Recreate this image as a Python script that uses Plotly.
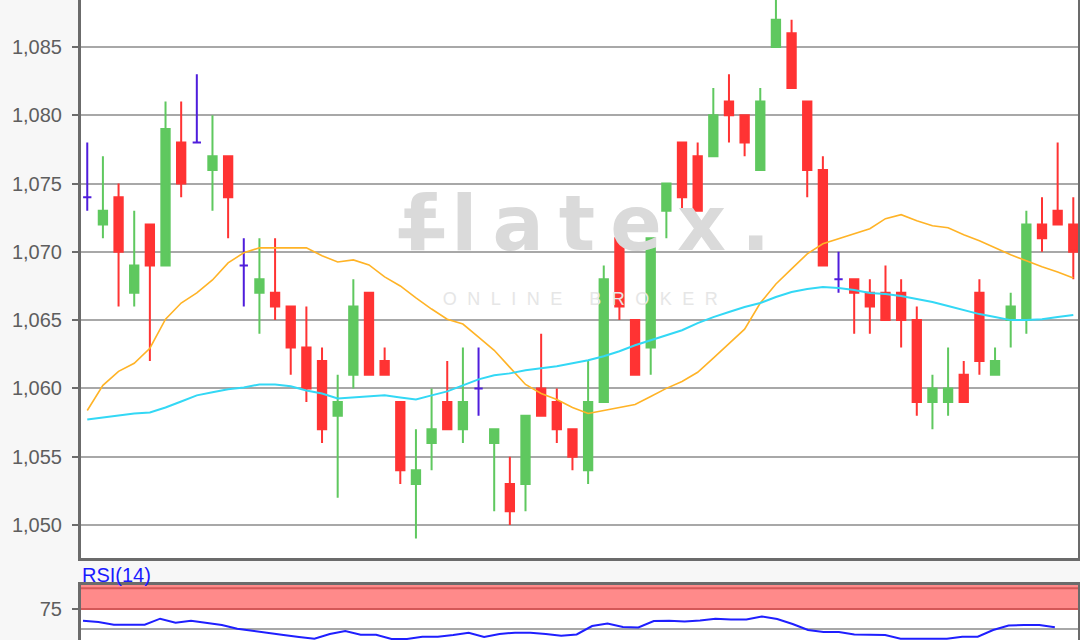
import plotly.graph_objects as go

# ---- data ----
opens = [1.074, 1.072, 1.074, 1.067, 1.072, 1.069, 1.078, 1.078, 1.076, 1.077,
         1.069, 1.067, 1.067, 1.066, 1.063, 1.062, 1.058, 1.061, 1.067, 1.062,
         1.059, 1.053, 1.056, 1.059, 1.057, 1.060, 1.056, 1.053, 1.053, 1.060,
         1.059, 1.057, 1.054, 1.059, 1.071, 1.065, 1.063, 1.073, 1.078, 1.077,
         1.077, 1.081, 1.080, 1.076, 1.085, 1.086, 1.081, 1.076, 1.068, 1.068,
         1.067, 1.067, 1.067, 1.065, 1.059, 1.059, 1.061, 1.067, 1.061, 1.065,
         1.065, 1.072, 1.073, 1.072]
highs = [1.078, 1.077, 1.075, 1.073, 1.072, 1.081, 1.081, 1.083, 1.080, 1.077,
         1.071, 1.071, 1.071, 1.066, 1.066, 1.063, 1.061, 1.068, 1.067, 1.063,
         1.059, 1.057, 1.060, 1.062, 1.063, 1.063, 1.057, 1.055, 1.058, 1.064,
         1.060, 1.057, 1.062, 1.069, 1.071, 1.065, 1.071, 1.075, 1.078, 1.078,
         1.082, 1.083, 1.080, 1.082, 1.089, 1.087, 1.081, 1.077, 1.070, 1.068,
         1.068, 1.069, 1.068, 1.066, 1.061, 1.063, 1.062, 1.068, 1.063, 1.067,
         1.073, 1.074, 1.078, 1.074]
lows = [1.073, 1.071, 1.066, 1.066, 1.062, 1.069, 1.074, 1.078, 1.073, 1.071,
        1.066, 1.064, 1.065, 1.061, 1.059, 1.056, 1.052, 1.060, 1.061, 1.061,
        1.053, 1.049, 1.054, 1.057, 1.056, 1.058, 1.051, 1.050, 1.051, 1.058,
        1.056, 1.054, 1.053, 1.059, 1.065, 1.061, 1.061, 1.071, 1.073, 1.073,
        1.077, 1.078, 1.077, 1.076, 1.085, 1.082, 1.074, 1.069, 1.067, 1.064,
        1.064, 1.065, 1.063, 1.058, 1.057, 1.058, 1.059, 1.061, 1.061, 1.063,
        1.064, 1.070, 1.072, 1.068]
closes = [1.074, 1.073, 1.070, 1.069, 1.069, 1.079, 1.075, 1.078, 1.077, 1.074,
          1.069, 1.068, 1.066, 1.063, 1.060, 1.057, 1.059, 1.066, 1.061, 1.061,
          1.054, 1.054, 1.057, 1.057, 1.059, 1.060, 1.057, 1.051, 1.058, 1.058,
          1.057, 1.055, 1.059, 1.068, 1.066, 1.061, 1.071, 1.075, 1.074, 1.073,
          1.080, 1.080, 1.078, 1.081, 1.087, 1.082, 1.076, 1.069, 1.068, 1.067,
          1.066, 1.065, 1.065, 1.059, 1.060, 1.060, 1.059, 1.062, 1.062, 1.066,
          1.072, 1.071, 1.072, 1.070]

ma_orange = [1.05838, 1.06022, 1.06125, 1.06184, 1.06294, 1.06507, 1.06625, 1.06699,
             1.06794, 1.06919, 1.06993, 1.07029, 1.07029, 1.07029, 1.07029, 1.06971,
             1.06926, 1.06941, 1.06904, 1.06816, 1.06750, 1.06662, 1.06581, 1.06507,
             1.06471, 1.06375, 1.06279, 1.06154, 1.06029, 1.05963, 1.05919, 1.05860,
             1.05816, 1.05838, 1.05860, 1.05882, 1.05941, 1.06000, 1.06051, 1.06118,
             1.06221, 1.06331, 1.06434, 1.06625, 1.06765, 1.06875, 1.06985, 1.07059,
             1.07096, 1.07132, 1.07169, 1.07243, 1.07272, 1.07228, 1.07191, 1.07176,
             1.07125, 1.07081, 1.07029, 1.06978, 1.06934, 1.06890, 1.06853, 1.06809]
ma_cyan = [1.05772, 1.05787, 1.05801, 1.05816, 1.05824, 1.05860, 1.05904, 1.05949,
           1.05971, 1.05993, 1.06007, 1.06029, 1.06029, 1.06015, 1.05985, 1.05963,
           1.05926, 1.05934, 1.05941, 1.05949, 1.05934, 1.05919, 1.05949, 1.05978,
           1.06022, 1.06066, 1.06096, 1.06110, 1.06132, 1.06147, 1.06162, 1.06184,
           1.06206, 1.06235, 1.06272, 1.06316, 1.06353, 1.06390, 1.06426, 1.06478,
           1.06522, 1.06559, 1.06596, 1.06625, 1.06669, 1.06706, 1.06728, 1.06743,
           1.06735, 1.06721, 1.06699, 1.06691, 1.06676, 1.06654, 1.06632, 1.06603,
           1.06574, 1.06544, 1.06522, 1.06500, 1.06500, 1.06507, 1.06522, 1.06537]

rsi = [72.08, 71.75, 71.08, 71.08, 71.08, 72.58, 71.58, 72.08, 71.50, 71.00,
       70.08, 69.50, 69.00, 68.50, 68.00, 67.58, 68.75, 69.50, 68.58, 68.58,
       67.50, 67.50, 68.08, 68.08, 68.50, 69.08, 68.00, 68.75, 69.08, 69.08,
       68.75, 68.33, 68.63, 70.75, 71.38, 70.50, 70.38, 72.00, 72.08, 71.88,
       72.13, 72.58, 72.38, 72.38, 73.13, 72.50, 71.25, 69.75, 69.25, 69.25,
       68.63, 68.50, 68.50, 67.58, 67.58, 67.58, 67.58, 68.08, 68.08, 69.75,
       70.88, 71.00, 71.00, 70.43]

price_ticks = [1.050, 1.055, 1.060, 1.065, 1.070, 1.075, 1.080, 1.085]
rsi_ticks = [75]
rsi_title = "RSI(14)"

# ---- build ----
n = len(opens)
idx = list(range(n))
is_doji = [o == c for o, c in zip(opens, closes)]
not_doji = [not d for d in is_doji]

def pick(arr, keep):
    return [v if k else None for v, k in zip(arr, keep)]

GREEN = "#5fc85f"
RED = "#ff3333"
BLUE = "#4f1ddc"
FRAME = "#6b6b6b"
GRID = "#a8a8a8"
WM = "#dadada"

fig = go.Figure()

# watermark (drawn first so it sits under the marks)
fig.add_trace(go.Scatter(
    x=[31.9], y=[1.07150], mode="text", text=["<b>f\u2009l\u2009a\u2009t\u2009e\u2009x\u2009.</b>"],
    textfont=dict(family="DejaVu Sans", size=76, color=WM),
    hoverinfo="skip", showlegend=False, xaxis="x", yaxis="y"))
fig.add_trace(go.Scatter(
    x=[31.5], y=[1.06640], mode="text",
    text=["\u2002\u200a".join(list("ONLINE")) + "\u2003\u2002" + "\u2002\u200a".join(list("BROKER"))],
    textfont=dict(family="Liberation Sans", size=18, color="#e6e6e6"),
    hoverinfo="skip", showlegend=False, xaxis="x", yaxis="y"))

fig.add_trace(go.Candlestick(
    x=idx, open=pick(opens, not_doji), high=pick(highs, not_doji),
    low=pick(lows, not_doji), close=pick(closes, not_doji),
    increasing=dict(line=dict(color=GREEN, width=2), fillcolor=GREEN),
    decreasing=dict(line=dict(color=RED, width=2), fillcolor=RED),
    whiskerwidth=0, hoverinfo="skip", showlegend=False, xaxis="x", yaxis="y"))
fig.add_trace(go.Candlestick(
    x=idx, open=pick(opens, is_doji), high=pick(highs, is_doji),
    low=pick(lows, is_doji), close=pick(closes, is_doji),
    increasing=dict(line=dict(color=BLUE, width=2), fillcolor=BLUE),
    decreasing=dict(line=dict(color=BLUE, width=2), fillcolor=BLUE),
    whiskerwidth=0, hoverinfo="skip", showlegend=False, xaxis="x", yaxis="y"))

fig.add_trace(go.Scatter(x=idx, y=ma_orange, mode="lines",
                         line=dict(color="#ffb326", width=1.6),
                         hoverinfo="skip", showlegend=False, xaxis="x", yaxis="y"))
fig.add_trace(go.Scatter(x=idx, y=ma_cyan, mode="lines",
                         line=dict(color="#33d8f5", width=2),
                         hoverinfo="skip", showlegend=False, xaxis="x", yaxis="y"))

fig.add_trace(go.Scatter(x=idx, y=rsi, mode="lines",
                         line=dict(color="#1f1fff", width=2),
                         hoverinfo="skip", showlegend=False, xaxis="x2", yaxis="y2"))

W, H = 1080, 640
main_bottom = 1 - 558 / H
rsi_top = 1 - 584.5 / H

fig.update_layout(
    width=W, height=H,
    margin=dict(l=81, r=2, t=0, b=0),
    paper_bgcolor="#f7f7f7", plot_bgcolor="#ffffff",
    separators=",.",
    boxgap=0.24,
    showlegend=False,
    xaxis=dict(domain=[0, 1], range=[-0.40, 63.30], showgrid=False,
               showticklabels=False, ticks="", zeroline=False,
               showline=True, linecolor=FRAME, linewidth=3,
               rangeslider=dict(visible=False), fixedrange=True),
    yaxis=dict(domain=[main_bottom, 1], range=[1.04758, 1.08844],
               tickvals=price_ticks, tickformat=".3f",
               showgrid=True, gridcolor=GRID, gridwidth=2,
               zeroline=False, showline=True, mirror=True,
               linecolor=FRAME, linewidth=3,
               ticks="outside", ticklen=6, tickwidth=2, tickcolor=FRAME,
               ticklabelstandoff=6,
               tickfont=dict(family="Liberation Sans", size=20, color="#5e5e5e")),
    xaxis2=dict(domain=[0, 1], range=[-0.13, 64.5], anchor="y2", side="top",
                showgrid=False, showticklabels=False, ticks="", zeroline=False,
                showline=True, linecolor=FRAME, linewidth=3, fixedrange=True),
    yaxis2=dict(domain=[0, rsi_top], range=[67.25, 81.125], anchor="x2",
                tickvals=rsi_ticks, showgrid=False, zeroline=False,
                showline=True, mirror=True, linecolor=FRAME, linewidth=3,
                ticks="outside", ticklen=6, tickwidth=2, tickcolor=FRAME,
                ticklabelstandoff=6,
                tickfont=dict(family="Liberation Sans", size=20, color="#5e5e5e")),
    shapes=[
        dict(type="rect", xref="x2 domain", yref="y2", x0=0, x1=1, y0=75, y1=81.0,
             fillcolor="#ff8a8a", line=dict(width=0), layer="below"),
        dict(type="line", xref="x2 domain", yref="y2", x0=0, x1=1, y0=75, y1=75,
             line=dict(color="#d45858", width=2), layer="below"),
        dict(type="line", xref="x2 domain", yref="y2", x0=0, x1=1, y0=80.2, y1=80.2,
             line=dict(color="#d45858", width=2), layer="below"),
        dict(type="line", xref="x2 domain", yref="y2", x0=0, x1=1, y0=70, y1=70,
             line=dict(color=GRID, width=2), layer="below"),
        dict(type="line", xref="x", yref="y", x0=19.9, x1=22.8, y0=1.07136, y1=1.07136,
             line=dict(color=WM, width=10), layer="below"),
    ],
    annotations=[
        dict(text=rsi_title, xref="paper", yref="paper", x=0, y=1 - 562 / H,
             xanchor="left", yanchor="top", xshift=-1, showarrow=False,
             font=dict(family="Liberation Sans", size=20, color="#1a1aff")),
    ],
)

fig.write_html("out.html", config={"responsive": False, "displayModeBar": False},
               post_script="document.body.style.margin='0';document.body.style.overflow='hidden';")
